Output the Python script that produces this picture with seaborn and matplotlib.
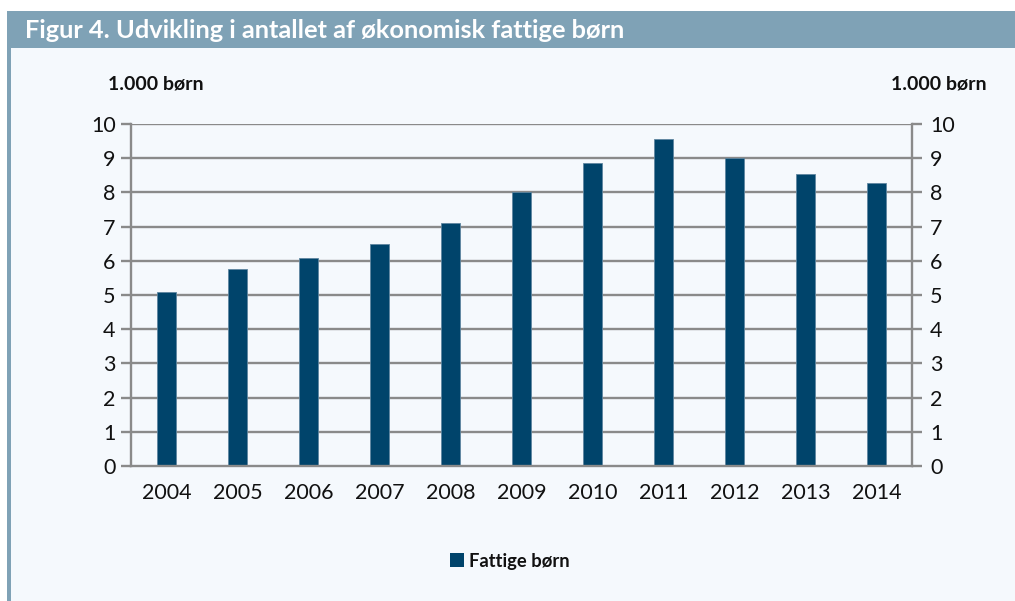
import matplotlib
matplotlib.use("Agg")
import matplotlib.pyplot as plt
from matplotlib.patches import Rectangle, Patch
import seaborn as sns
import pandas as pd

years = ["2004", "2005", "2006", "2007", "2008", "2009", "2010", "2011", "2012", "2013", "2014"]
fattige_boern = [5.1, 5.77, 6.09, 6.49, 7.1, 8.01, 8.86, 9.56, 9.0, 8.55, 8.27]
y_ticks = [0, 1, 2, 3, 4, 5, 6, 7, 8, 9, 10]
title = "Figur 4. Udvikling i antallet af økonomisk fattige børn"
unit_label = "1.000 børn"
series_name = "Fattige børn"

BG = "#F5F9FD"
BAR = "#00446B"
HEADER = "#7FA2B6"
GRID = "#8A8A8A"
TXT = "#111111"

sns.set_theme(style="white")
plt.rcParams["font.family"] = ["Lato", "DejaVu Sans"]

W, H = 1015, 601
fig = plt.figure(figsize=(W / 100, H / 100), dpi=100)
fig.patch.set_facecolor("white")

# background panel
fig.patches.append(Rectangle((7 / W, 0), 1 - 7 / W, 1 - 11 / H, transform=fig.transFigure,
                             facecolor=BG, edgecolor="none", zorder=-3))
# header bar
fig.patches.append(Rectangle((7 / W, 1 - 48 / H), 1 - 7 / W, 37 / H, transform=fig.transFigure,
                             facecolor=HEADER, edgecolor="none", zorder=-2))
# left border
fig.patches.append(Rectangle((7 / W, 0), 4 / W, 1 - 11 / H, transform=fig.transFigure,
                             facecolor=HEADER, edgecolor="none", zorder=-2))

fig.text(25 / W, 1 - 31 / H, title, color="white", fontsize=18.3, fontweight="bold",
         va="center", ha="left")

ax = fig.add_axes([131 / W, 1 - 466 / H, (912 - 131) / W, (466 - 124) / H])
ax.set_facecolor(BG)

df = pd.DataFrame({"year": years, "value": fattige_boern})
sns.barplot(data=df, x="year", y="value", color=BAR, width=0.28, ax=ax,
            edgecolor="#5f86a0", linewidth=0.6, saturation=1, zorder=3)

ax.set_ylim(0, 10)
ax.set_xlim(-0.5, len(years) - 0.5)
ax.set_yticks(y_ticks)
ax.set_xlabel("")
ax.set_ylabel("")
for yv in y_ticks[1:]:
    ax.axhline(yv, color=GRID, lw=1.7, zorder=1)

for s in ["top", "right"]:
    ax.spines[s].set_visible(False)
for s in ["left", "bottom"]:
    ax.spines[s].set_color(GRID)
    ax.spines[s].set_linewidth(1.7)
    ax.spines[s].set_zorder(4)

ax.set_xticks(range(len(years)))
ax.set_xticklabels(years)
ax.set_xticks([i - 0.5 for i in range(len(years) + 1)], minor=True)
ax.tick_params(axis="x", which="major", length=0, pad=12, labelsize=15.5, labelcolor=TXT)
ax.tick_params(axis="x", which="minor", length=6, width=1.7, color=GRID, direction="out")
ax.tick_params(axis="y", length=7, width=1.7, color=GRID, direction="out", pad=4,
               labelsize=15.5, labelcolor=TXT, left=True)

ax2 = ax.twinx()
ax2.set_ylim(0, 10)
ax2.set_yticks(y_ticks)
ax2.grid(False)
for s in ["top", "left", "bottom"]:
    ax2.spines[s].set_visible(False)
ax2.spines["right"].set_color(GRID)
ax2.spines["right"].set_linewidth(1.7)
ax2.tick_params(axis="y", length=7, width=1.7, color=GRID, direction="out", pad=6,
                labelsize=15.5, labelcolor=TXT, right=True)

fig.text(108 / W, 1 - 84 / H, unit_label, fontsize=14, fontweight="bold",
         ha="left", va="center", color=TXT)
fig.text(987 / W, 1 - 84 / H, unit_label, fontsize=14, fontweight="bold",
         ha="right", va="center", color=TXT)

# legend
handles = [Patch(facecolor=BAR, edgecolor="none", label=series_name)]
leg = fig.legend(handles=handles, loc="center", bbox_to_anchor=(510 / W, 1 - 561 / H),
                 frameon=False, handlelength=0.75, handleheight=0.75, handletextpad=0.3,
                 fontsize=13.2)
for t in leg.get_texts():
    t.set_fontweight("bold")
    t.set_color(TXT)

fig.savefig("out.png", dpi=100, facecolor=fig.get_facecolor())
